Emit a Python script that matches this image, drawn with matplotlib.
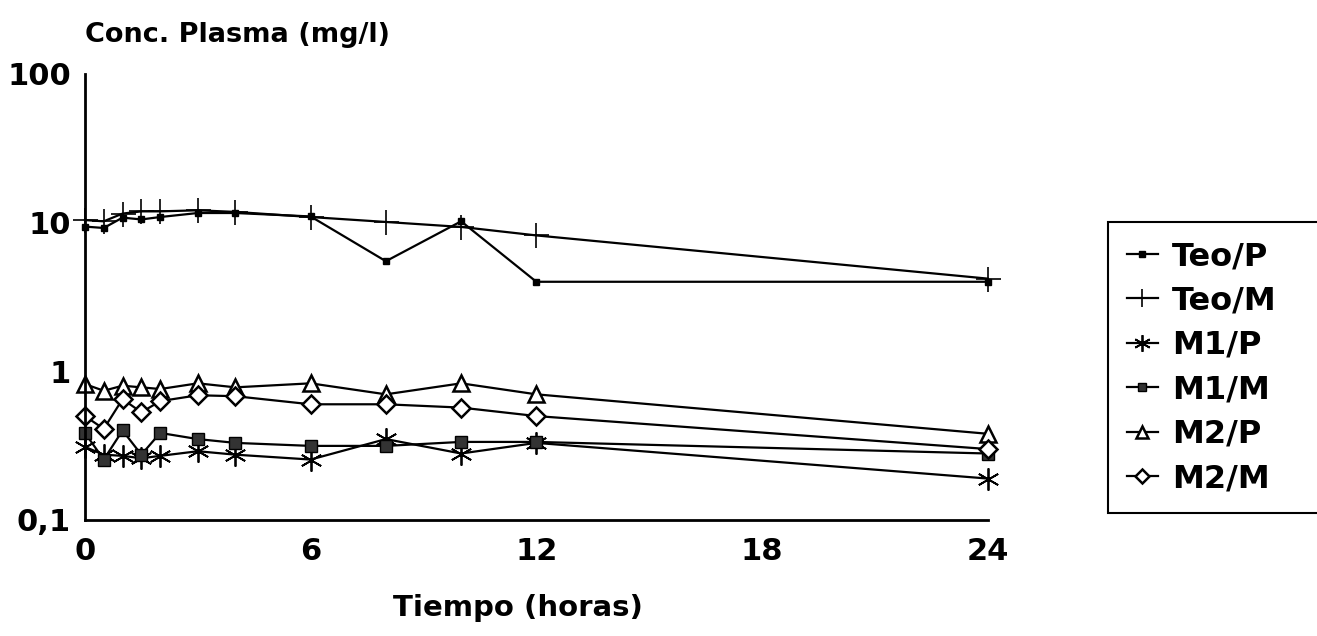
import numpy as np
import matplotlib.pyplot as plt

plt.rcParams['font.family'] = ['DejaVu Sans']
plt.rcParams['font.weight'] = 'bold'

# Sampling times (hours)
tiempo = [0, 0.5, 1, 1.5, 2, 3, 4, 6, 8, 10, 12, 24]

# Plasma concentrations (mg/l)
teo_p = [9.4, 9.2, 10.8, 10.5, 10.9, 11.6, 11.6, 11.0, 5.5, 10.2, 4.0, 4.0]
teo_m = [10.4, 10.2, 11.5, 11.9, 11.9, 12.1, 11.8, 10.9, 10.1, 9.35, 8.2, 4.2]
m1_p = [0.31, 0.275, 0.27, 0.26, 0.27, 0.29, 0.275, 0.255, 0.35, 0.28, 0.33, 0.19]
m1_m = [0.385, 0.255, 0.40, 0.275, 0.385, 0.35, 0.33, 0.315, 0.315, 0.335, 0.335, 0.28]
m2_p = [0.82, 0.74, 0.80, 0.78, 0.76, 0.83, 0.78, 0.83, 0.70, 0.83, 0.70, 0.38]
m2_m = [0.50, 0.41, 0.65, 0.53, 0.63, 0.69, 0.68, 0.60, 0.60, 0.57, 0.50, 0.30]

y_ticks = [0.1, 1, 10, 100]
y_ticklabels = ['0,1', '1', '10', '100']
x_ticks = [0, 6, 12, 18, 24]

fig = plt.figure(figsize=(13.17, 6.36), dpi=100)
ax = fig.add_axes([0.0645, 0.1824, 0.6855, 0.7014])

lw = 1.6
kw = dict(color='black', lw=lw, clip_on=False)
ax.plot(tiempo, teo_p, '-', marker='s', ms=5, mfc='black', mec='black',
        label='Teo/P', **kw)
ax.plot(tiempo, teo_m, '-', marker='+', ms=18, mew=1.2, label='Teo/M', **kw)
ax.plot(tiempo, m1_p, '-', marker=(6, 2, 0), ms=16, mew=1.3,
        label='M1/P', **kw)
ax.plot(tiempo, m1_m, '-', marker='s', ms=8, mfc='#333333', mec='black',
        label='M1/M', **kw)
ax.plot(tiempo, m2_p, '-', marker='^', ms=12, mfc='white', mec='black',
        mew=1.8, label='M2/P', **kw)
ax.plot(tiempo, m2_m, '-', marker='D', ms=9, mfc='white', mec='black',
        mew=1.8, label='M2/M', **kw)

ax.set_yscale('log')
ax.set_ylim(0.1, 100)
ax.set_xlim(0, 24)
ax.set_yticks(y_ticks)
ax.set_yticklabels(y_ticklabels)
ax.yaxis.set_minor_locator(plt.NullLocator())
ax.set_xticks(x_ticks)
ax.tick_params(axis='both', length=0, labelsize=22)
ax.tick_params(axis='x', pad=12)
ax.tick_params(axis='y', pad=10)

for s in ['top', 'right']:
    ax.spines[s].set_visible(False)
for s in ['left', 'bottom']:
    ax.spines[s].set_linewidth(2)

ax.set_xlabel('Tiempo (horas)', fontsize=21, fontweight='bold')
ax.xaxis.set_label_coords(0.48, -0.165)

fig.text(0.0645, 0.945, 'Conc. Plasma (mg/l)', fontsize=19.5,
         fontweight='bold', va='center', ha='left')

leg = fig.legend(loc='upper left', bbox_to_anchor=(0.8413, 0.1, 0.25, 0.551),
                 mode='expand', fontsize=23, handlelength=0.95,
                 handletextpad=0.45, labelspacing=0.42, borderpad=0.6,
                 borderaxespad=0, fancybox=False, frameon=True,
                 edgecolor='black', framealpha=1)
leg.get_frame().set_linewidth(1.5)
for h in leg.legend_handles:
    h.set_markersize(h.get_markersize() * 0.75)

plt.savefig('out.png', dpi=100)
